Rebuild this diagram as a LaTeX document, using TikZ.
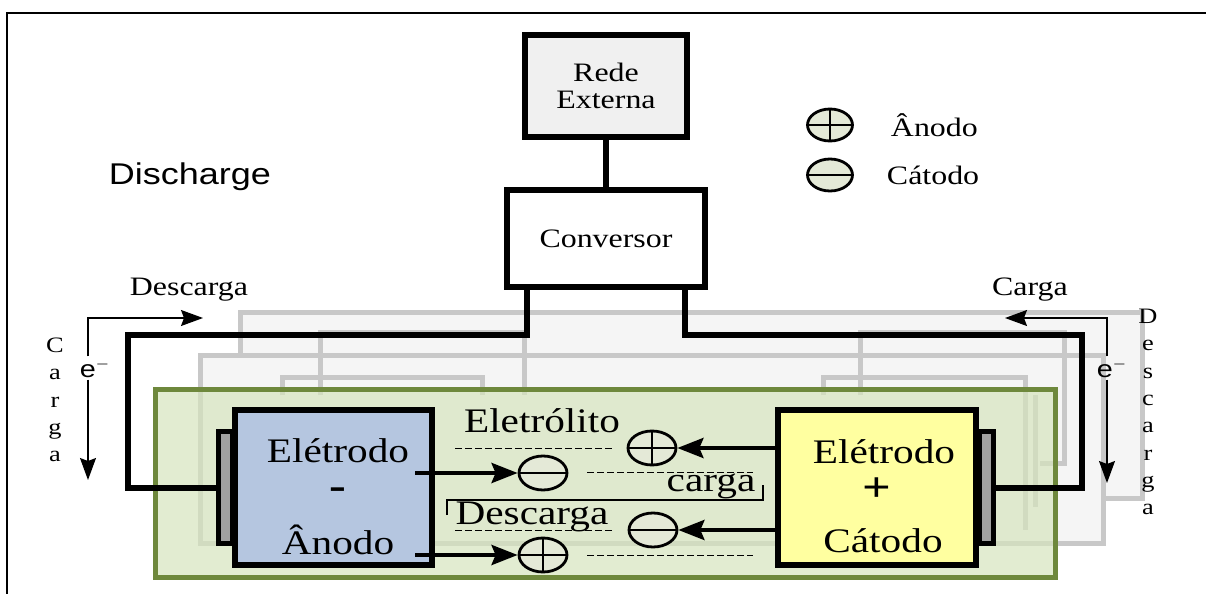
\documentclass[tikz,border=0pt]{standalone}
\usepackage{fontspec}
\setmainfont{Liberation Serif}[FakeStretch=1.2]
\newfontfamily\sansfont{Liberation Sans}[FakeStretch=1.2]
\usetikzlibrary{arrows.meta,positioning,calc,shapes.geometric}
\definecolor{anodefill}{RGB}{181,198,224}
\definecolor{cathfill}{RGB}{255,255,160}
\definecolor{greenedge}{RGB}{110,136,60}
\definecolor{greenfill}{RGB}{214,228,190}
\definecolor{ionfill}{RGB}{228,233,215}
\definecolor{tabgray}{RGB}{160,160,160}
\definecolor{redefill}{RGB}{240,240,240}
\definecolor{ghostgray}{RGB}{200,200,200}
\definecolor{ghostfill}{RGB}{245,245,245}

\tikzset{
  blk/.style={draw, line width=3pt, inner sep=0pt, align=center},
  wire/.style={line width=3pt},
  ghost/.style={draw=ghostgray, line width=2.5pt},
  ion/.style={ellipse, draw, line width=1.4pt, fill=ionfill, minimum width=24pt, minimum height=17pt, inner sep=0pt},
  posion/.style={ion, path picture={\draw[line width=0.6pt] (path picture bounding box.north) -- (path picture bounding box.south) (path picture bounding box.west) -- (path picture bounding box.east);}},
  negion/.style={ion, path picture={\draw[line width=0.6pt] (path picture bounding box.west) -- (path picture bounding box.east);}},
  ionarrow/.style={-{Stealth[length=13pt,width=10pt,inset=2pt]}, line width=2pt},
  flow/.style={-{Stealth[length=11pt,width=8pt,inset=1.5pt]}, line width=0.6pt},
  dashline/.style={dash pattern=on 3.5pt off 1.5pt, line width=0.5pt},
  big/.style={font=\fontsize{17.2}{20}\selectfont, inner sep=1pt},
  mid/.style={font=\fontsize{13.3}{13.5}\selectfont},
  sign/.style={font=\bfseries\fontsize{21}{21}\selectfont, inner sep=0pt},
  stack/.style={font=\fontsize{11}{13.7}\selectfont, align=center, inner sep=0pt},
  elec/.style={font=\sansfont\fontsize{12}{14}\selectfont, inner sep=1pt},
}

\begin{document}
\begin{tikzpicture}[x=0.5pt,y=-0.5pt]
  \useasboundingbox (0,0) rectangle (1206,594);
  \draw[line width=0.9pt] (7,594) -- (7,13) -- (1206,13);

  % faded copies behind the cell
  \draw[ghost, fill=ghostfill] (240,312) rectangle (1142,498);
  \draw[ghost, fill=ghostfill] (200,355) rectangle (1103,543);
  \draw[ghost] (320,395) -- (320,332) -- (524,332) -- (524,395);
  \draw[ghost] (860,395) -- (860,332) -- (1064,332) -- (1064,463) -- (1040,463);
  \draw[ghost] (282,395) -- (282,377) -- (482,377) -- (482,395);
  \draw[ghost] (823,395) -- (823,377) -- (1025,377) -- (1025,530);
  \draw[ghost] (1035,395) -- (1035,507);

  \node[draw=greenedge, line width=2.5pt, fill=greenfill, fill opacity=0.7,
        minimum width=450pt, minimum height=94pt] (cell) at (605,483) {};

  % grid side
  \node[blk, fill=redefill, mid, minimum width=81pt, minimum height=51pt] (rede) at (606,86) {Rede\\Externa};
  \node[blk, fill=white, mid, minimum width=99pt, minimum height=48.5pt] (conv) at (606,238.5) {Conversor};
  \draw[wire] (rede) -- (conv);

  % electrodes
  \node[draw, line width=2.5pt, fill=tabgray, minimum width=7pt, minimum height=56pt, inner sep=0pt] (tabL) at (225,487.5) {};
  \node[draw, line width=2.5pt, fill=tabgray, minimum width=7pt, minimum height=56pt, inner sep=0pt] (tabR) at (986,487.5) {};
  \node[blk, fill=anodefill, minimum width=98.5pt, minimum height=77.5pt] (anode) at (333.5,487.5) {};
  \node[blk, fill=cathfill, minimum width=99pt, minimum height=77.5pt] (cathode) at (877,487.5) {};

  \coordinate (wl) at (128,335);
  \coordinate (wr) at (1082,335);
  \draw[wire] ($(conv.south)+(-79,0)$) |- (wl) |- (tabL.west);
  \draw[wire] ($(conv.south)+(79,0)$) |- (wr) |- (tabR.east);

  \node[big] (aT) at (338,451) {Elétrodo};
  \node[sign] (aS) at (338,499) {\smash{-}};
  \node[big] (aB) at (338,540) {Ânodo};
  \node[big] (cT) at (884,452) {Elétrodo};
  \node[sign] (cS) at (877,490) {+};
  \node[big] (cB) at (883,541) {Cátodo};

  % ions in the electrolyte
  \node[posion] (ipU) at (652,448) {};
  \node[negion] (inU) at (543,473) {};
  \node[negion] (inD) at (653,530) {};
  \node[posion] (ipD) at (543,555) {};
  \draw[ionarrow] ($(anode.east)+(-20,-14.5)$) -- (inU.west);
  \draw[ionarrow] ($(anode.east)+(-20,67.5)$) -- (ipD.west);
  \draw[ionarrow] (cathode.west |- ipU) -- (ipU.east);
  \draw[ionarrow] (cathode.west |- inD) -- (inD.east);

  \draw[dashline] (455,448) -- (615,448);
  \draw[dashline] (587,472) -- (753,472);
  \draw[dashline] (455,530) -- (612,530);
  \draw[dashline] (587,555) -- (753,555);
  \draw[line width=0.6pt] (447,515) -- (447,500) -- (763,500) -- (763,485);

  \node[big] (elyt) at (542,421) {Eletrólito};
  \node[big] (chg) at (711,486) {carga};
  \node[big] (dchg) at (532,517) {Descarga};

  % legend
  \node[posion, minimum width=22.5pt, minimum height=16pt] (lgP) at (830,125) {};
  \node[negion, minimum width=22.5pt, minimum height=16pt] (lgN) at (830,175) {};
  \node[mid, right=15pt of lgP] (lgPt) {Ânodo};
  \node[mid, right=13pt of lgN] (lgNt) {Cátodo};

  \node[font=\sansfont\fontsize{15}{18}\selectfont] (title) at (190,177) {Discharge};

  % electron flow, left
  \node[mid] (dL) at (189,290) {Descarga};
  \node[elec] (eL) at (95,368) {e$^{-}$};
  \node[stack] (cL) at (55,400) {C\\a\\r\\g\\a};
  \coordinate (lc) at (88,318);
  \coordinate (lt) at (203,318);
  \coordinate (lb) at (88,480);
  \draw[flow] (eL.north -| lc) -- (lc) -- (lt);
  \draw[flow] (eL.south -| lc) -- (lb);

  % electron flow, right
  \node[mid] (cR) at (1030,290) {Carga};
  \node[elec] (eR) at (1112,368) {e$^{-}$};
  \node[stack] (dR) at (1148,412) {D\\e\\s\\c\\a\\r\\g\\a};
  \coordinate (rc) at (1107,318);
  \coordinate (rt) at (1005,318);
  \coordinate (rb) at (1107,483);
  \draw[flow] (eR.north -| rc) -- (rc) -- (rt);
  \draw[flow] (eR.south -| rc) -- (rb);
\end{tikzpicture}
\end{document}
